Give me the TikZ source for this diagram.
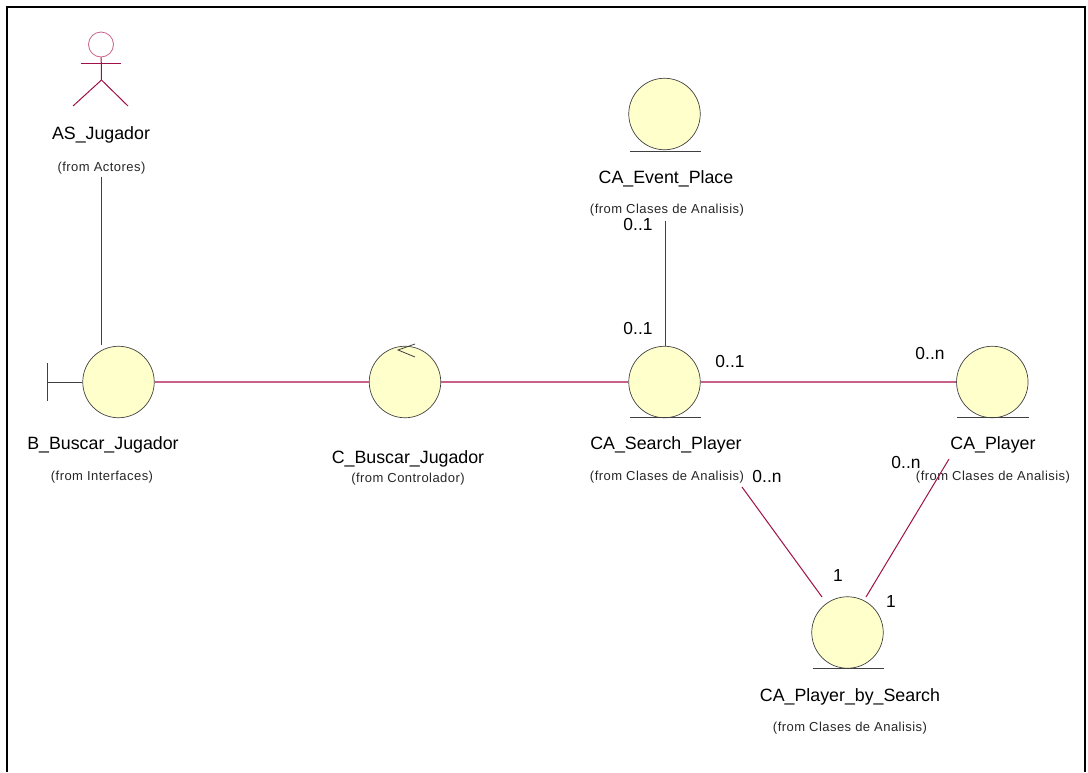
\documentclass[tikz,border=0pt]{standalone}
\usepackage{fontspec}
\setmainfont{Liberation Sans}
\newfontfamily\fromfont[LetterSpace=3.5]{Liberation Sans}
\definecolor{assoc}{HTML}{A01048}
\definecolor{assoclight}{HTML}{C8608A}
\definecolor{objfill}{HTML}{FFFFCB}
\definecolor{objline}{HTML}{404040}
\begin{document}
\begin{tikzpicture}[x=1pt,y=-1pt,
  obj/.style={circle,draw=objline,fill=objfill,line width=0.7pt,minimum size=71.5pt,inner sep=0pt},
  objname/.style={font=\fontsize{17.8}{20}\selectfont,inner sep=0pt,yshift=-2pt},
  fromname/.style={font=\fromfont\fontsize{13}{15}\selectfont,text=black!85,inner sep=0pt,yshift=-1.5pt},
  mult/.style={font=\fontsize{17.4}{20}\selectfont,inner sep=0pt},
  assoc line/.style={assoc,line width=1pt},
  main line/.style={assoclight,line width=2pt},
  detail/.style={objline,line width=0.8pt}]
\useasboundingbox (0,0) rectangle (1088,772);

\draw[line width=2pt] (7,772) -- (7,7) -- (1085,7) -- (1085,772);

\coordinate (headc) at (101,44.5);
\coordinate (hip) at (101.5,80);
\coordinate (arml) at (81,63);
\coordinate (armr) at (121,63);
\coordinate (legl) at (73,106);
\coordinate (legr) at (128,106);
\node[circle,draw=assoclight,line width=0.8pt,minimum size=25pt,inner sep=0pt] (head) at (headc) {};
\draw[assoc line] (head) -- (hip) -- (legl);
\draw[assoc line] (hip) -- (legr);
\draw[assoc line] (arml) -- (armr);
\node[objname] (jugname) at (101,133) {AS\_Jugador};
\node[fromname] (jugfrom) at (101.5,167) {(from Actores)};

\node[obj] (boundary) at (118.5,382) {};
\coordinate (bartop) at (47.5,363);
\coordinate (barbot) at (47.5,401);
\coordinate (barmid) at (47.5,382);
\draw[detail] (bartop) -- (barbot);
\draw[detail] (barmid) -- (boundary);
\node[objname] (boundname) at (103,443) {B\_Buscar\_Jugador};
\node[fromname] (boundfrom) at (102,476) {(from Interfaces)};

\node[obj] (control) at (405,382) {};
\coordinate (tip) at (398,350);
\coordinate (tipa) at (415,344);
\coordinate (tipb) at (415,357);
\draw[detail] (tipa) -- (tip) -- (tipb);
\node[objname] (ctrlname) at (408,457) {C\_Buscar\_Jugador};
\node[fromname] (ctrlfrom) at (408,478) {(from Controlador)};

\node[obj] (event) at (664.5,114) {};
\draw[detail] (630,151) -- (701,151);
\node[objname] (eventname) at (666,177) {CA\_Event\_Place};
\node[fromname] (eventfrom) at (667,209) {(from Clases de Analisis)};

\node[obj] (search) at (664.5,382) {};
\draw[detail] (630,417.5) -- (701,417.5);
\node[objname] (searchname) at (666,443) {CA\_Search\_Player};
\node[fromname] (searchfrom) at (667,476) {(from Clases de Analisis)};

\node[obj] (player) at (992.3,382) {};
\draw[detail] (957,417.5) -- (1029,417.5);
\node[objname] (playername) at (993,443) {CA\_Player};
\node[fromname] (playerfrom) at (993,476) {(from Clases de Analisis)};

\node[obj] (bysearch) at (847.5,632.5) {};
\draw[detail] (812.5,668.8) -- (884,668.8);
\node[objname] (byname) at (850,695) {CA\_Player\_by\_Search};
\node[fromname] (byfrom) at (850,727) {(from Clases de Analisis)};

\coordinate (juga) at (101.5,177);
\coordinate (jugb) at (101.5,345);
\coordinate (eventa) at (665.5,221);
\coordinate (eventb) at (665.5,346);
\coordinate (sa) at (742,487);
\coordinate (sb) at (822,597);
\coordinate (pa) at (949,459);
\coordinate (pb) at (866,597);
\draw[assoc line] (juga) -- (jugb);
\draw[assoc line] (eventa) -- (eventb);
\draw[assoc line] (sa) -- (sb);
\draw[assoc line] (pa) -- (pb);
\draw[main line] (boundary) -- (control);
\draw[main line] (control) -- (search);
\draw[main line] (search) -- (player);

\node[mult] (m1) at (638,225) {0..1};
\node[mult] (m2) at (638,329) {0..1};
\node[mult] (m3) at (730,362) {0..1};
\node[mult] (m4) at (930,354) {0..n};
\node[mult] (m5) at (767,477) {0..n};
\node[mult] (m6) at (906,463) {0..n};
\node[mult] (m7) at (838,576) {1};
\node[mult] (m8) at (891,602) {1};
\end{tikzpicture}
\end{document}
